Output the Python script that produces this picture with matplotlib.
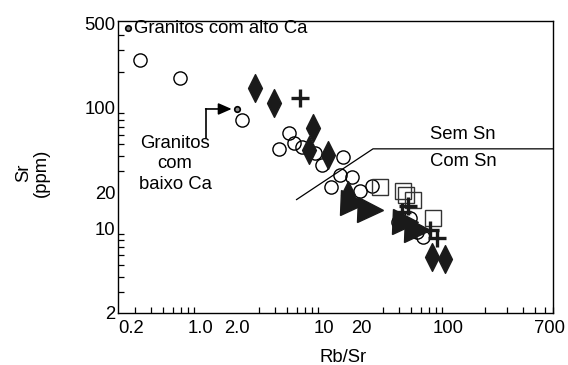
import numpy as np
import matplotlib
matplotlib.use('Agg')
import matplotlib.pyplot as plt
from matplotlib.path import Path
from matplotlib.ticker import FixedLocator, LogLocator, NullFormatter

plt.rcParams['font.family'] = ['Liberation Sans', 'DejaVu Sans']

# Rb/Sr (x) and Sr ppm (y)
circ_x = [0.33, 0.69, 2.18, 5.22, 4.34, 5.73, 6.65, 8.46, 9.64, 14.2, 13.5, 16.8,
          11.4, 19.5, 24.4, 39.5, 49.4, 56.2, 62.9]
circ_y = [249, 177, 79.6, 62.1, 45.8, 51.4, 47.6, 42.5, 33.8, 39.4, 27.9, 26.9,
          22.2, 20.6, 22.7, 11.4, 12.3, 9.3, 8.6]

sq_x = [28.3, 43.4, 45.8, 52.2, 75.7]
sq_y = [22.2, 20.6, 19.1, 17.4, 12.3]

dia_x = [2.78, 3.95, 8.15, 7.57, 10.8, 15.6, 74.3, 94.6]
dia_y = [146, 110, 68.4, 45.0, 40.9, 19.1, 5.8, 5.6]

tri_x = [17.1, 23.5, 45.0, 56.2]
tri_y = [16.4, 14.4, 11.4, 9.8]

plus_x = [6.4, 42.6, 47.6, 71.6, 81.5]
plus_y = [121, 13.6, 15.5, 9.8, 8.4]

dot_x = [0.263, 1.99]
dot_y = [458, 98]

# Sem Sn / Com Sn boundary
line_x = [6.0, 24.8, 700]
line_y = [17.4, 45.8, 45.8]

xtick_pos = [0.276, 1.0, 2.0, 10, 20, 100, 660]
xtick_lab = ['0.2', '1.0', '2.0', '10', '20', '100', '700']
ytick_pos = [2, 10, 20, 100, 500]
ytick_lab = ['2', '10', '20', '100', '500']

fig = plt.figure(figsize=(5.68, 3.65), dpi=100)
ax = fig.add_axes([0.2077, 0.1425, 0.7658, 0.8])
ax.set_xscale('log')
ax.set_yscale('log')
ax.set_xlim(0.218, 700)
ax.set_ylim(2, 525)

diamond = Path([(0, 1), (0.5, 0), (0, -1), (-0.5, 0), (0, 1)],
               [Path.MOVETO, Path.LINETO, Path.LINETO, Path.LINETO, Path.CLOSEPOLY])

ax.plot(line_x, line_y, color='black', lw=0.9)
ax.plot(circ_x, circ_y, 'o', ms=9.5, mfc='none', mec='black', mew=1.0)
ax.plot(sq_x, sq_y, 's', ms=12, mfc='none', mec='#333333', mew=1.0)
ax.plot(dia_x, dia_y, marker=diamond, ls='none', ms=20, mfc='#1a1a1a', mec='#1a1a1a')
ax.plot(tri_x, tri_y, '>', ms=18, mfc='#1a1a1a', mec='#1a1a1a')
ax.plot(plus_x, plus_y, '+', ms=12.5, mec='#1a1a1a', mew=2.4)
ax.plot(dot_x, dot_y, 'o', ms=4, mfc='#888888', mec='black', mew=1.2)

# arrow pointing to the low-Ca dot
ax.plot([1.12, 1.12], [56.5, 98], color='black', lw=1.2)
ax.annotate('', xy=(1.8, 98), xytext=(1.11, 98),
            arrowprops=dict(arrowstyle='-|>,head_length=0.8,head_width=0.35',
                            color='black', lw=1.2, shrinkA=0, shrinkB=0))

ax.text(0.294, 458, 'Granitos com alto Ca', fontsize=13.3, va='center', ha='left')
ax.text(0.63, 34.5, 'Granitos\ncom\nbaixo Ca', fontsize=13.3, va='center', ha='center',
        linespacing=1.28)
ax.text(132, 59.8, 'Sem Sn', fontsize=13.3, va='center', ha='center')
ax.text(132, 35.8, 'Com Sn', fontsize=13.3, va='center', ha='center')

ax.xaxis.set_major_locator(FixedLocator(xtick_pos))
ax.set_xticklabels(xtick_lab)
ax.xaxis.set_minor_locator(LogLocator(base=10, subs=np.arange(1, 10), numticks=20))
ax.xaxis.set_minor_formatter(NullFormatter())
ax.yaxis.set_major_locator(FixedLocator(ytick_pos))
ax.set_yticklabels(ytick_lab)
ax.yaxis.set_minor_locator(LogLocator(base=10, subs=np.arange(1, 10), numticks=20))
ax.yaxis.set_minor_formatter(NullFormatter())

ax.tick_params(which='major', length=0, labelsize=13.3)
ax.tick_params(axis='x', which='major', pad=5)
ax.tick_params(axis='y', which='major', pad=2)
ax.tick_params(which='minor', direction='in', length=4.5, width=0.9,
               top=False, right=False)

for s in ax.spines.values():
    s.set_linewidth(1.0)

ax.set_xlabel('Rb/Sr', fontsize=13.3)
ax.set_ylabel('Sr\n(ppm)', fontsize=13.3, linespacing=1.1)
ax.xaxis.set_label_coords(0.517, -0.125)
ax.yaxis.set_label_coords(-0.156, 0.48)

fig.savefig('out.png', dpi=100)
